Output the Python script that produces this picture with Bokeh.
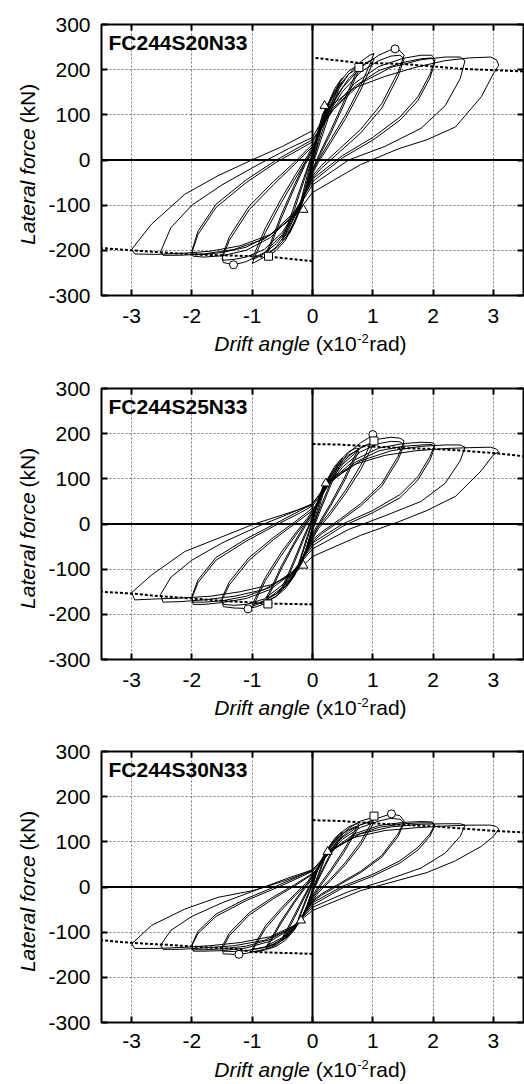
import math
from bokeh.plotting import figure
from bokeh.models import Range1d, FixedTicker, LinearAxis, Span, Label
from bokeh.layouts import column, row
from bokeh.embed import file_html
from bokeh.resources import INLINE

# ---------------- data ----------------
X_TICKS = [-3, -2, -1, 0, 1, 2, 3]
Y_TICKS = [-300, -200, -100, 0, 100, 200, 300]
X_LABELS = ["-3", "-2", "-1", "0", "1", "2", "3"]
Y_LABELS = ["-300", "-200", "-100", "0", "100", "200", "300"]

# drift (x10^-2 rad) paths of each cycle amplitude
X_025 = [0.0, 0.08, 0.17, 0.25, 0.21, 0.1, 0.0, -0.09, -0.17, -0.24, -0.2, -0.09, 0.0]
X_050 = [0.0, 0.12, 0.25, 0.37, 0.47, 0.5, 0.44, 0.3, 0.14, 0.0, -0.12, -0.25, -0.37, -0.47, -0.5, -0.44, -0.3, -0.14, 0.0]
X_075 = [0.0, 0.15, 0.3, 0.45, 0.6, 0.72, 0.77, 0.7, 0.52, 0.3, 0.12, 0.0, -0.15, -0.3, -0.45, -0.6, -0.72, -0.77, -0.7, -0.52, -0.3, -0.12, 0.0]
X_100 = [0.0, 0.2, 0.4, 0.6, 0.8, 0.95, 1.02, 0.97, 0.8, 0.55, 0.3, 0.1, 0.0, -0.2, -0.4, -0.6, -0.8, -0.95, -1.0, -0.95, -0.78, -0.52, -0.28, -0.08, 0.0]
X_150 = [0.0, 0.25, 0.5, 0.8, 1.1, 1.3, 1.45, 1.52, 1.42, 1.15, 0.8, 0.45, 0.15, 0.0, -0.25, -0.5, -0.8, -1.1, -1.3, -1.48, -1.5, -1.38, -1.05, -0.65, -0.3, 0.0]
X_200 = [0.0, 0.3, 0.7, 1.1, 1.5, 1.8, 1.98, 2.03, 1.95, 1.75, 1.45, 1.0, 0.5, 0.0, -0.3, -0.7, -1.1, -1.5, -1.8, -1.98, -2.0, -1.9, -1.6, -1.1, -0.6, -0.2, 0.0]
X_250 = [0.0, 0.35, 0.8, 1.3, 1.8, 2.2, 2.45, 2.53, 2.45, 2.2, 1.8, 1.2, 0.6, 0.0, -0.35, -0.8, -1.3, -1.8, -2.2, -2.48, -2.52, -2.35, -2.0, -1.5, -0.9, -0.4, 0.0]
X_300 = [0.0, 0.3, 0.7, 1.2, 1.7, 2.2, 2.6, 2.95, 3.05, 3.09, 3.0, 2.8, 2.37, 1.9, 1.43, 0.8, 0.0, -0.3, -0.7, -1.2, -1.7, -2.2, -2.6, -2.95, -3.0, -2.67, -2.12, -1.57, -0.99, -0.5, 0.0]
CYCLE_X = [X_025, X_025, X_050, X_050, X_075, X_075, X_100, X_100, X_150, X_150, X_200, X_200, X_250, X_300]

# FC244S20N33 lateral force (kN)
S20_025A = [0, 55, 100, 125, 110, 55, 0, -55, -95, -118, -100, -45, 5]
S20_025B = [5, 60, 102, 120, 104, 45, -10, -60, -97, -115, -95, -35, 8]
S20_050A = [8, 70, 122, 158, 178, 182, 168, 118, 55, -5, -70, -125, -160, -176, -178, -162, -110, -45, 12]
S20_050B = [12, 72, 120, 152, 170, 174, 158, 108, 45, -12, -72, -122, -155, -170, -172, -155, -100, -38, 15]
S20_075A = [12, 80, 135, 172, 197, 207, 205, 186, 130, 65, 15, -20, -85, -140, -178, -200, -212, -213, -192, -130, -62, -10, 18]
S20_075B = [15, 78, 130, 166, 190, 200, 198, 178, 122, 58, 10, -25, -85, -137, -173, -195, -205, -206, -185, -122, -55, -5, 22]
S20_100A = [18, 95, 150, 190, 218, 232, 236, 218, 165, 100, 45, 0, -25, -100, -155, -192, -215, -226, -229, -212, -160, -95, -40, 5, 25]
S20_100B = [22, 90, 142, 180, 207, 220, 224, 206, 155, 92, 38, -5, -30, -98, -150, -185, -207, -218, -220, -203, -150, -86, -32, 10, 30]
S20_150A = [25, 105, 160, 205, 232, 244, 242, 232, 195, 125, 68, 25, -12, -35, -110, -165, -205, -225, -232, -227, -218, -178, -110, -55, -10, 30]
S20_150B = [30, 100, 152, 195, 220, 230, 232, 224, 185, 115, 60, 18, -18, -40, -108, -160, -198, -215, -220, -222, -213, -170, -102, -48, -5, 35]
S20_200A = [30, 108, 170, 207, 225, 232, 232, 222, 190, 140, 95, 50, 10, -42, -118, -172, -200, -212, -215, -213, -205, -165, -105, -50, -5, 25, 40]
S20_200B = [40, 105, 163, 198, 216, 224, 226, 216, 182, 132, 88, 44, 5, -48, -115, -166, -193, -205, -209, -208, -200, -158, -98, -44, 0, 30, 45]
S20_250 = [45, 112, 170, 205, 222, 228, 228, 220, 180, 120, 70, 30, 0, -55, -130, -175, -198, -208, -211, -211, -203, -150, -100, -55, -10, 25, 50]
S20_300 = [50, 120, 160, 185, 205, 220, 226, 228, 222, 210, 191, 140, 73, 45, 25, -10, -72, -125, -165, -190, -202, -207, -209, -208, -198, -142, -76, -35, 1, 30, 65]
S20_CYCLES = [S20_025A, S20_025B, S20_050A, S20_050B, S20_075A, S20_075B, S20_100A, S20_100B,
              S20_150A, S20_150B, S20_200A, S20_200B, S20_250, S20_300]
S20_DASH_POS_X = [0.05, 0.77, 1.47, 2.46, 3.5]
S20_DASH_POS_Y = [226, 215, 213, 202, 196]
S20_DASH_NEG_X = [0.0, -0.73, -2.0, -3.0, -3.5]
S20_DASH_NEG_Y = [-224, -214, -209, -200, -195]
S20_CIRCLE_X = [1.37, -1.31]
S20_CIRCLE_Y = [246, -232]
S20_SQUARE_X = [0.77, -0.73]
S20_SQUARE_Y = [205, -213]
S20_TRI_X = [0.2, -0.15]
S20_TRI_Y = [120, -110]

# FC244S25N33 lateral force (kN)
S25_025A = [0, 45, 80, 100, 88, 40, -5, -50, -80, -95, -80, -35, 5]
S25_025B = [5, 48, 82, 96, 82, 32, -12, -55, -82, -92, -75, -28, 8]
S25_050A = [8, 60, 100, 128, 143, 146, 133, 92, 40, -8, -60, -102, -128, -140, -142, -128, -85, -32, 12]
S25_050B = [12, 60, 98, 124, 137, 140, 126, 85, 33, -14, -62, -100, -124, -135, -137, -122, -78, -26, 15]
S25_075A = [12, 65, 108, 140, 160, 168, 167, 150, 100, 45, 5, -20, -72, -115, -143, -160, -168, -168, -152, -100, -45, -5, 18]
S25_075B = [15, 64, 104, 134, 153, 161, 160, 143, 93, 40, 0, -25, -72, -112, -139, -155, -162, -163, -146, -94, -40, 0, 22]
S25_100A = [18, 80, 125, 158, 180, 192, 195, 180, 130, 75, 28, -5, -28, -88, -130, -160, -177, -184, -185, -172, -125, -70, -25, 10, 25]
S25_100B = [22, 76, 120, 150, 170, 178, 181, 166, 120, 68, 22, -10, -33, -86, -126, -155, -170, -177, -178, -165, -118, -63, -20, 14, 30]
S25_150A = [25, 88, 132, 168, 188, 192, 190, 184, 150, 90, 45, 10, -18, -35, -95, -140, -172, -187, -186, -183, -168, -135, -80, -35, 0, 30]
S25_150B = [30, 84, 126, 160, 178, 183, 182, 176, 142, 84, 40, 6, -22, -40, -93, -135, -166, -178, -180, -178, -163, -128, -74, -30, 4, 35]
S25_200A = [30, 95, 142, 168, 178, 181, 180, 176, 150, 105, 65, 30, 0, -42, -105, -145, -165, -174, -178, -178, -164, -130, -80, -38, -2, 25, 40]
S25_200B = [40, 92, 136, 162, 172, 175, 176, 170, 142, 98, 58, 25, -5, -48, -102, -140, -160, -170, -173, -173, -160, -124, -74, -33, 2, 30, 45]
S25_250 = [45, 100, 140, 162, 172, 175, 175, 170, 140, 90, 50, 18, -12, -55, -110, -145, -160, -168, -172, -173, -156, -118, -80, -42, -5, 22, 45]
S25_300 = [45, 100, 132, 152, 162, 167, 169, 170, 166, 160, 153, 118, 61, 30, 5, -25, -72, -110, -135, -150, -160, -164, -166, -168, -152, -113, -61, -32, -1, 20, 42]
S25_CYCLES = [S25_025A, S25_025B, S25_050A, S25_050B, S25_075A, S25_075B, S25_100A, S25_100B,
              S25_150A, S25_150B, S25_200A, S25_200B, S25_250, S25_300]
S25_DASH_POS_X = [0.0, 0.44, 1.05, 1.49, 2.04, 2.53, 3.09, 3.5]
S25_DASH_POS_Y = [177, 176, 171, 168, 166, 162, 156, 150]
S25_DASH_NEG_X = [0.0, -0.74, -1.5, -2.0, -2.5, -3.0, -3.5]
S25_DASH_NEG_Y = [-178, -176, -170, -165, -160, -154, -150]
S25_CIRCLE_X = [1.0, -1.07]
S25_CIRCLE_Y = [198, -188]
S25_SQUARE_X = [1.02, -0.74]
S25_SQUARE_Y = [184, -177]
S25_TRI_X = [0.22, -0.15]
S25_TRI_Y = [90, -92]

# FC244S30N33 lateral force (kN)
S30_025A = [0, 38, 65, 82, 70, 30, -5, -42, -65, -75, -62, -25, 5]
S30_025B = [5, 40, 66, 78, 65, 25, -10, -45, -66, -72, -58, -20, 8]
S30_050A = [8, 50, 85, 108, 120, 122, 110, 75, 32, -8, -50, -85, -105, -115, -116, -103, -68, -25, 12]
S30_050B = [12, 50, 82, 104, 115, 117, 104, 70, 28, -12, -52, -83, -102, -111, -112, -98, -62, -20, 15]
S30_075A = [12, 55, 92, 118, 133, 140, 139, 124, 82, 38, 5, -18, -60, -95, -118, -131, -137, -137, -122, -80, -35, -2, 18]
S30_075B = [15, 54, 88, 113, 127, 134, 133, 118, 76, 33, 0, -22, -60, -92, -114, -126, -132, -133, -117, -75, -31, 2, 22]
S30_100A = [18, 68, 105, 130, 146, 152, 152, 140, 100, 55, 18, -8, -25, -72, -106, -128, -140, -144, -142, -130, -92, -52, -18, 8, 25]
S30_100B = [22, 64, 100, 124, 138, 144, 144, 132, 93, 50, 14, -12, -30, -72, -104, -124, -134, -138, -137, -125, -86, -47, -14, 12, 28]
S30_150A = [25, 75, 110, 138, 153, 162, 158, 146, 118, 70, 35, 8, -15, -30, -80, -115, -138, -147, -149, -148, -137, -108, -62, -26, 2, 28]
S30_150B = [28, 72, 106, 132, 146, 152, 150, 142, 112, 66, 32, 5, -18, -33, -78, -112, -133, -141, -143, -142, -132, -102, -57, -22, 5, 30]
S30_200A = [28, 80, 118, 136, 143, 145, 144, 138, 118, 88, 58, 28, 2, -35, -88, -120, -135, -141, -142, -142, -130, -103, -65, -30, -2, 22, 35]
S30_200B = [35, 78, 114, 132, 140, 142, 142, 136, 113, 82, 53, 24, -2, -40, -86, -116, -131, -137, -139, -139, -127, -98, -60, -26, 2, 25, 38]
S30_250 = [38, 85, 118, 133, 139, 140, 140, 137, 112, 75, 42, 14, -10, -45, -92, -118, -130, -135, -138, -138, -129, -96, -65, -35, -5, 20, 38]
S30_300 = [38, 82, 110, 125, 131, 135, 137, 137, 134, 128, 112, 90, 58, 32, 15, -8, -52, -85, -110, -123, -130, -134, -136, -136, -126, -85, -49, -23, -8, 12, 36]
S30_CYCLES = [S30_025A, S30_025B, S30_050A, S30_050B, S30_075A, S30_075B, S30_100A, S30_100B,
              S30_150A, S30_150B, S30_200A, S30_200B, S30_250, S30_300]
S30_DASH_POS_X = [0.0, 0.5, 1.0, 2.04, 2.53, 3.03, 3.5]
S30_DASH_POS_Y = [148, 146, 141, 134, 129, 124, 121]
S30_DASH_NEG_X = [0.0, -0.47, -0.97, -1.3, -1.85, -2.4, -2.98, -3.5]
S30_DASH_NEG_Y = [-148, -146, -144, -137, -133, -128, -124, -118]
S30_CIRCLE_X = [1.31, -1.22]
S30_CIRCLE_Y = [162, -149]
S30_SQUARE_X = [1.02]
S30_SQUARE_Y = [157]
S30_TRI_X = [0.25, -0.19]
S30_TRI_Y = [78, -74]

NAMES = ["FC244S20N33", "FC244S25N33", "FC244S30N33"]
Y_TITLE = ["Lateral force", "(kN)"]
X_TITLE = ["Drift angle", "(x10", "-2", "rad)"]

# ---------------- layout / style ----------------
FONT = "Liberation Sans"
FS = 21
SUP_FS = 13
SUP_RAISE = 5
FRAME_W = 424
FRAME_H = 271
YLAB_W = 45
MAIN_W = 524 - YLAB_W
X0, X1 = -3.5, 3.5
Y0, Y1 = -300, 300
SHIFT = 8.5   # measured drop of rendered text below its requested baseline


def fx(px):
    return X0 + px * (X1 - X0) / FRAME_W


def fy(px):
    return Y1 - px * (Y1 - Y0) / FRAME_H


def label(p, x, y, text, size=FS, style="normal", angle=0.0, align="left"):
    p.add_layout(Label(x=x, y=y, text=text, text_font=FONT, text_font_size=f"{size}px",
                       text_font_style=style, text_color="black", angle=angle,
                       text_align=align, text_baseline="alphabetic"))


def blank_fig(width, height):
    f = figure(width=width, height=height, x_range=Range1d(0, width), y_range=Range1d(0, height),
               output_backend="svg", toolbar_location=None, title=None,
               min_border=0, min_border_left=0, min_border_right=0,
               min_border_top=0, min_border_bottom=0,
               x_axis_type=None, y_axis_type=None)
    f.outline_line_color = None
    f.background_fill_color = "white"
    f.border_fill_color = "white"
    return f


def style_axis(ax, ticks, labels, show, standoff):
    ax.ticker = FixedTicker(ticks=ticks)
    ax.major_tick_in = 6
    ax.major_tick_out = 0
    ax.major_tick_line_width = 2
    ax.major_tick_line_color = "black"
    ax.minor_tick_line_color = None
    ax.axis_line_color = None
    if show:
        ax.major_label_overrides = {t: l for t, l in zip(ticks, labels)}
        ax.major_label_text_font = FONT
        ax.major_label_text_font_size = f"{FS}px"
        ax.major_label_text_color = "black"
        ax.major_label_standoff = standoff
    else:
        ax.major_label_text_font_size = "0px"
        ax.major_label_text_color = None
        ax.major_label_standoff = 0


def make_panel(name, cycles, dpx, dpy, dnx, dny, cx, cy, sx, sy, tx, ty,
               top_border, bottom_border, x_standoff, xlab_h, cap_y):
    main_h = top_border + FRAME_H + bottom_border
    p = figure(width=MAIN_W, height=main_h, x_range=Range1d(X0, X1), y_range=Range1d(Y0, Y1),
               output_backend="svg", toolbar_location=None, title=None,
               min_border_left=99 - YLAB_W, min_border_right=1, min_border_top=top_border,
               min_border_bottom=bottom_border)
    p.background_fill_color = "white"
    p.border_fill_color = "white"
    p.outline_line_color = "black"
    p.outline_line_width = 2

    style_axis(p.xaxis[0], X_TICKS, X_LABELS, True, x_standoff)
    style_axis(p.yaxis[0], Y_TICKS, Y_LABELS, True, 11)
    top = LinearAxis()
    style_axis(top, X_TICKS, X_LABELS, False, 0)
    p.add_layout(top, "above")
    right = LinearAxis()
    style_axis(right, Y_TICKS, Y_LABELS, False, 0)
    p.add_layout(right, "right")

    p.xgrid.ticker = FixedTicker(ticks=X_TICKS)
    p.ygrid.ticker = FixedTicker(ticks=[-200, -100, 100, 200])
    for g in (p.xgrid[0], p.ygrid[0]):
        g.grid_line_color = "#7a7a7a"
        g.grid_line_dash = "2 2"
        g.grid_line_width = 1

    p.add_layout(Span(location=0, dimension="width", line_color="black", line_width=2))
    p.add_layout(Span(location=0, dimension="height", line_color="black", line_width=2))

    p.multi_line(xs=CYCLE_X, ys=cycles, line_color="black", line_width=1)
    p.line(dpx, dpy, line_color="black", line_width=2, line_dash="3 2")
    p.line(dnx, dny, line_color="black", line_width=2, line_dash="3 2")
    p.scatter(cx, cy, marker="circle", size=8, fill_color="white", line_color="black", line_width=1)
    p.scatter(sx, sy, marker="square", size=8, fill_color="white", line_color="black", line_width=1)
    p.scatter(tx, ty, marker="triangle", size=9, fill_color="white", line_color="black", line_width=1)

    label(p, fx(7), fy(26 - SHIFT), name, style="bold")

    # y axis title (rotated) in its own strip; the two parts meet at "junction"
    ylab = blank_fig(YLAB_W, main_h)
    junction = top_border + 102.3        # px from top where "Lateral force" ends
    gap = 0.278 * FS
    bx = 35.5 - SHIFT
    label(ylab, bx, main_h - junction, Y_TITLE[0], style="italic", angle=math.pi / 2, align="right")
    label(ylab, bx, main_h - (junction - gap), Y_TITLE[1], angle=math.pi / 2)

    # x axis title in its own strip
    xlab = blank_fig(524, xlab_h)
    j1 = 309.5                           # page x where "Drift angle" ends
    w2 = 1.945 * FS
    w3 = 0.889 * SUP_FS
    base = xlab_h - (cap_y + 7.5) + SHIFT
    label(xlab, j1, base, X_TITLE[0], style="italic", align="right")
    label(xlab, j1 + gap, base, X_TITLE[1])
    label(xlab, j1 + gap + w2 + 0.5, base + SUP_RAISE, X_TITLE[2], size=SUP_FS)
    label(xlab, j1 + gap + w2 + w3 + 1, base, X_TITLE[3])

    return column(row(ylab, p, spacing=0), xlab, spacing=0)


b1 = make_panel(NAMES[0], S20_CYCLES, S20_DASH_POS_X, S20_DASH_POS_Y, S20_DASH_NEG_X, S20_DASH_NEG_Y,
                S20_CIRCLE_X, S20_CIRCLE_Y, S20_SQUARE_X, S20_SQUARE_Y, S20_TRI_X, S20_TRI_Y,
                24, 35, 13, 34, 14)
b2 = make_panel(NAMES[1], S25_CYCLES, S25_DASH_POS_X, S25_DASH_POS_Y, S25_DASH_NEG_X, S25_DASH_NEG_Y,
                S25_CIRCLE_X, S25_CIRCLE_Y, S25_SQUARE_X, S25_SQUARE_Y, S25_TRI_X, S25_TRI_Y,
                24, 35, 13, 34, 14)
b3 = make_panel(NAMES[2], S30_CYCLES, S30_DASH_POS_X, S30_DASH_POS_Y, S30_DASH_NEG_X, S30_DASH_NEG_Y,
                S30_CIRCLE_X, S30_CIRCLE_Y, S30_SQUARE_X, S30_SQUARE_Y, S30_TRI_X, S30_TRI_Y,
                23, 33, 11, 29, 15)

layout = column(b1, b2, b3, spacing=0)
open("out.html", "w").write(file_html(layout, INLINE))
